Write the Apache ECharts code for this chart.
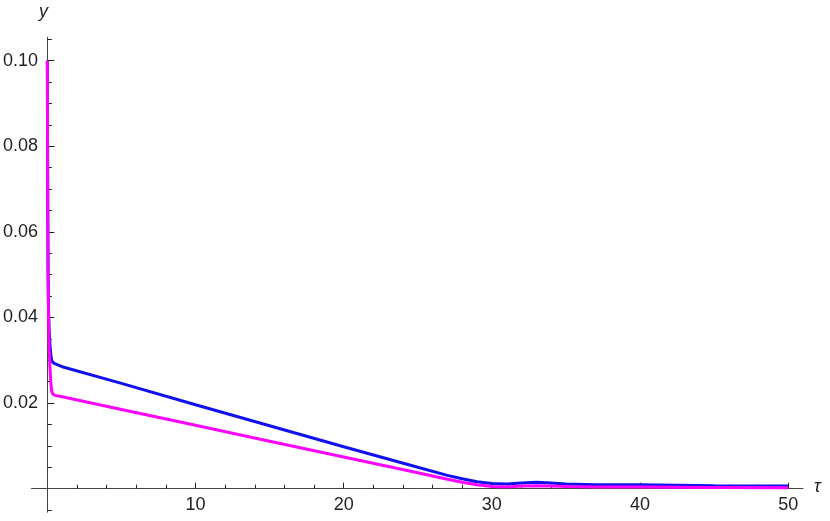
<!DOCTYPE html>
<html>
<head>
<meta charset="utf-8">
<script src="https://cdn.jsdelivr.net/npm/echarts@6/dist/echarts.min.js"></script>
<style>
  html, body { margin: 0; padding: 0; background: #fff; }
  #main { width: 830px; height: 521px; }
</style>
</head>
<body>
<div id="main"></div>
<script>
// tau values (x) and the two curves
var tau = [0, 0.02, 0.05, 0.08, 0.12, 0.18, 0.23, 0.28, 0.35, 0.5, 1, 5, 10, 15, 20, 25, 27, 28, 29, 30, 31, 32, 33, 34, 35, 37, 40, 45, 50];
var blueY = [0.1, 0.07, 0.05, 0.042, 0.037, 0.0335, 0.0315, 0.0302, 0.0296, 0.0292, 0.0285, 0.0246, 0.0196, 0.0147, 0.0098, 0.0050, 0.0031, 0.0023, 0.0016, 0.0012, 0.0011, 0.0013, 0.0015, 0.0013, 0.0011, 0.0009, 0.0009, 0.0007, 0.0006];
var magentaY = [0.1, 0.07, 0.05, 0.04, 0.033, 0.028, 0.025, 0.023, 0.0222, 0.0218, 0.0215, 0.0185, 0.0148, 0.0111, 0.0074, 0.0037, 0.0022, 0.0015, 0.0009, 0.0005, 0.0004, 0.0006, 0.0007, 0.0006, 0.0005, 0.0004, 0.0004, 0.0003, 0.0002];

// ticks
var xMajor = [10, 20, 30, 40, 50];
var xMinor = [2, 4, 6, 8, 12, 14, 16, 18, 22, 24, 26, 28, 32, 34, 36, 38, 42, 44, 46, 48];
var yMajor = [0.02, 0.04, 0.06, 0.08, 0.10];
var yMinor = [-0.005, 0.005, 0.01, 0.015, 0.025, 0.03, 0.035, 0.045, 0.05, 0.055, 0.065, 0.07, 0.075, 0.085, 0.09, 0.095, 0.105];

function pairs(xs, ys) {
  var out = [];
  for (var i = 0; i < xs.length; i++) out.push([xs[i], ys[i]]);
  return out;
}

var myChart = echarts.init(document.getElementById('main'));

var axisCol = '#444';
var font = 'Liberation Sans, Arial, sans-serif';
var labelStyle = { color: '#222', fontSize: 18, fontFamily: font };

// labels stay on the grid edge, so the margins pull them back to the zero lines
var option = {
  animation: false,
  backgroundColor: '#fff',
  grid: { left: 31.5, right: 27, top: 37.2, bottom: 8.8, containLabel: false, outerBoundsMode: 'none' },
  xAxis: [
    {
      type: 'value', min: -1.07, max: 51, position: 'bottom',
      splitLine: { show: false },
      axisLine: { onZero: true, onZeroAxisIndex: 0, lineStyle: { color: axisCol, width: 1 } },
      axisTick: { inside: true, length: 6, customValues: xMajor, lineStyle: { color: '#222' } },
      axisLabel: Object.assign({ customValues: xMajor, margin: -16 }, labelStyle)
    },
    {
      type: 'value', min: -1.07, max: 51, position: 'bottom',
      splitLine: { show: false },
      axisLine: { show: false, onZero: true, onZeroAxisIndex: 0 },
      axisTick: { inside: true, length: 4, customValues: xMinor, lineStyle: { color: '#222' } },
      axisLabel: { show: false }
    }
  ],
  yAxis: [
    {
      type: 'value', min: -0.0055, max: 0.1055, position: 'left',
      splitLine: { show: false },
      axisLine: { onZero: true, onZeroAxisIndex: 0, lineStyle: { color: axisCol, width: 1 } },
      axisTick: { inside: true, length: 7, customValues: yMajor, lineStyle: { color: '#222' } },
      axisLabel: Object.assign({
        customValues: yMajor, margin: -6.5,
        formatter: function (v) { return v.toFixed(2); }
      }, labelStyle)
    },
    {
      type: 'value', min: -0.0055, max: 0.1055, position: 'left',
      splitLine: { show: false },
      axisLine: { show: false, onZero: true, onZeroAxisIndex: 0 },
      axisTick: { inside: true, length: 4.5, customValues: yMinor, lineStyle: { color: '#222' } },
      axisLabel: { show: false }
    }
  ],
  graphic: [
    { type: 'text', left: 39, top: 3, style: { text: 'y', fontSize: 18, fontStyle: 'italic', fill: '#222', fontFamily: font } },
    { type: 'text', left: 814, top: 478, style: { text: 'τ', fontSize: 18, fontStyle: 'italic', fill: '#222', fontFamily: font } }
  ],
  series: [
    {
      name: 'blue', type: 'line', xAxisIndex: 0, yAxisIndex: 0,
      data: pairs(tau, blueY), showSymbol: false, smooth: false,
      lineStyle: { color: '#1010f0', width: 3 }
    },
    {
      name: 'magenta', type: 'line', xAxisIndex: 0, yAxisIndex: 0,
      data: pairs(tau, magentaY), showSymbol: false, smooth: false,
      lineStyle: { color: '#ff00ff', width: 3 }
    }
  ]
};

myChart.setOption(option);
</script>
</body>
</html>
